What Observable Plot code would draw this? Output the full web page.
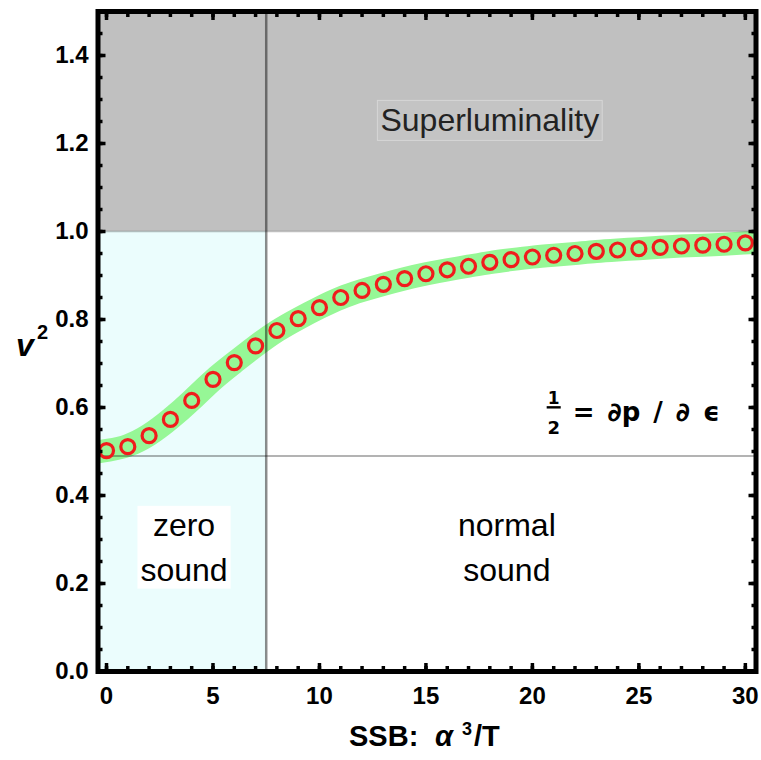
<!DOCTYPE html>
<html><head><meta charset="utf-8">
<script src="https://cdn.jsdelivr.net/npm/d3@7"></script>
<script src="https://cdn.jsdelivr.net/npm/@observablehq/plot@0.6"></script>
<style>body{margin:0;background:#fff;} svg{display:block;}</style>
</head><body><div id="chart"></div>
<script>
// ---- data ----
const ssb = [0,1,2,3,4,5,6,7,8,9,10,11,12,13,14,15,16,17,18,19,20,21,22,23,24,25,26,27,28,29,30];
const v2  = [0.502,0.511,0.536,0.573,0.616,0.664,0.702,0.740,0.775,0.802,0.827,0.850,0.866,0.880,0.893,0.904,0.913,0.921,0.930,0.936,0.942,0.946,0.950,0.955,0.958,0.961,0.964,0.967,0.969,0.971,0.974];
const bandEdgeX = [-0.4, 30.5];
const bandEdgeV = [0.499, 0.976];
const xDomain = [-0.4, 30.5];
const yDomain = [0, 1.5];
const xTicks = [0,5,10,15,20,25,30];
const xMinor = [0,1,2,3,4,5,6,7,8,9,10,11,12,13,14,15,16,17,18,19,20,21,22,23,24,25,26,27,28,29,30];
const yTicks = [0,0.2,0.4,0.6,0.8,1.0,1.2,1.4];
const yMinor = [0,0.05,0.1,0.15,0.2,0.25,0.3,0.35,0.4,0.45,0.5,0.55,0.6,0.65,0.7,0.75,0.8,0.85,0.9,0.95,1.0,1.05,1.1,1.15,1.2,1.25,1.3,1.35,1.4,1.45,1.5];
const zeroSoundLimit = 7.5;
const lightLimit = 1.0;
const halfLine = 0.49;
const regionLabels = ["Superluminality", "zero\nsound", "normal\nsound"];
const regionLabelX = [18.0, 3.64, 18.8];
const regionLabelY = [1.26, 0.29, 0.29];
const formulaX = 21.0, formulaY = 0.589;
const xLabelParts = ["SSB:", "α", "3", "/T"];
const yLabelParts = ["v", "2"];

// ---- tables ----
const points = ssb.map((x, i) => ({x, v: v2[i]}));
const band = [{x: bandEdgeX[0], v: bandEdgeV[0]}, ...points, {x: bandEdgeX[1], v: bandEdgeV[1]}];
const labels = regionLabels.map((t, i) => ({t, x: regionLabelX[i], y: regionLabelY[i]}));
const fracBar = [{x1: formulaX - 0.33, x2: formulaX + 0.33, y: formulaY}];

const F = "Liberation Sans, Arial, sans-serif";
const noText = () => "";

const plot = Plot.plot({
  width: 761, height: 760,
  marginLeft: 97.5, marginRight: 5.5, marginTop: 11, marginBottom: 89,
  x: {domain: xDomain},
  y: {domain: yDomain},
  style: {fontFamily: F, background: "white", color: "black", overflow: "visible"},
  marks: [
    // regions
    Plot.rect([0], {x1: xDomain[0], x2: xDomain[1], y1: lightLimit, y2: yDomain[1], fill: "#c0c0c0"}),
    Plot.rect([0], {x1: xDomain[0], x2: zeroSoundLimit, y1: yDomain[0], y2: lightLimit, fill: "#ebfdfd"}),
    // band
    Plot.line(band, {x: "x", y: "v", stroke: "#96f796", strokeWidth: 23, curve: "basis", strokeLinecap: "butt", clip: true}),
    // reference lines
    Plot.ruleY([lightLimit], {stroke: "black", strokeOpacity: 0.25, strokeWidth: 1.5}),
    Plot.ruleY([halfLine], {stroke: "black", strokeOpacity: 0.4, strokeWidth: 1.5}),
    Plot.ruleX([zeroSoundLimit], {stroke: "black", strokeOpacity: 0.45, strokeWidth: 2.5}),
    // points
    Plot.dot(points, {x: "x", y: "v", r: 7, stroke: "#f01c1c", strokeWidth: 3.2, fill: "none"}),
    // labels
    Plot.text(labels, {x: "x", y: "y", text: "t", fontSize: 32, lineHeight: 1.4, fill: (d, i) => i === 0 ? "#222" : "black"}),
    // formula 1/2 = dp/de
    Plot.text(["1"], {x: () => formulaX, y: () => formulaY, dy: -14, fontSize: 17, fontWeight: "bold", fontFamily: "DejaVu Sans"}),
    Plot.text(["2"], {x: () => formulaX, y: () => formulaY, dy: 16, fontSize: 18, fontWeight: "bold", fontFamily: "DejaVu Sans"}),
    Plot.link(fracBar, {x1: "x1", x2: "x2", y1: "y", y2: "y", dy: -5, stroke: "black", strokeWidth: 2.4}),
    Plot.text(["=\u2002∂p\u2002/\u2002∂\u2002ϵ"], {x: () => formulaX, y: () => formulaY, dx: 19, textAnchor: "start", fontSize: 26, fontWeight: "bold", fontFamily: "DejaVu Sans"}),
    // axes
    Plot.axisX({anchor: "bottom", ticks: xTicks, tickSize: -8, tickPadding: 23, tickFormat: d3.format("d"), fontSize: 24, fontWeight: "bold", strokeWidth: 3.5, label: null}),
    Plot.axisX({anchor: "bottom", ticks: xMinor, tickSize: -5, tickFormat: noText, strokeWidth: 3.5, label: null}),
    Plot.axisX({anchor: "top", ticks: xTicks, tickSize: -8, tickFormat: noText, strokeWidth: 3.5, label: null}),
    Plot.axisX({anchor: "top", ticks: xMinor, tickSize: -5, tickFormat: noText, strokeWidth: 3.5, label: null}),
    Plot.axisY({anchor: "left", ticks: yTicks, tickSize: -8, tickPadding: 17.5, tickFormat: d3.format(".1f"), fontSize: 24, fontWeight: "bold", strokeWidth: 3.5, label: null}),
    Plot.axisY({anchor: "left", ticks: yMinor, tickSize: -5, tickFormat: noText, strokeWidth: 3.5, label: null}),
    Plot.axisY({anchor: "right", ticks: yTicks, tickSize: -8, tickFormat: noText, strokeWidth: 3.5, label: null}),
    Plot.axisY({anchor: "right", ticks: yMinor, tickSize: -5, tickFormat: noText, strokeWidth: 3.5, label: null}),
    // axis titles
    Plot.text([xLabelParts[0]], {frameAnchor: "bottom", dx: -78, dy: 74, textAnchor: "start", fontSize: 29, fontWeight: "bold"}),
    Plot.text([xLabelParts[1]], {frameAnchor: "bottom", dx: 8, dy: 74, textAnchor: "start", fontSize: 29, fontWeight: "bold", fontStyle: "italic"}),
    Plot.text([xLabelParts[2]], {frameAnchor: "bottom", dx: 35, dy: 63, textAnchor: "start", fontSize: 18, fontWeight: "bold"}),
    Plot.text([xLabelParts[3]], {frameAnchor: "bottom", dx: 47, dy: 74, textAnchor: "start", fontSize: 29, fontWeight: "bold"}),
    Plot.text([yLabelParts[0]], {frameAnchor: "left", dx: -82, dy: 4, fontSize: 32, fontWeight: "bold", fontStyle: "italic"}),
    Plot.text([yLabelParts[1]], {frameAnchor: "left", dx: -61, dy: -9, fontSize: 20, fontWeight: "bold"}),
    // frame
    Plot.frame({stroke: "black", strokeWidth: 5})
  ]
});

document.getElementById("chart").append(plot);

// background boxes behind region labels
const boxes = [
  {match: "Superluminality", fill: "#c4c4c4", stroke: "#d6d6d6", px: 3, py: 2},
  {match: "zerosound", fill: "white", stroke: "none", px: 3, py: 1}
];
d3.select(plot).selectAll("text").each(function() {
  const b = boxes.find(b => b.match === this.textContent);
  if (!b) return;
  const bb = this.getBBox();
  const r = document.createElementNS("http://www.w3.org/2000/svg", "rect");
  r.setAttribute("x", bb.x - b.px);
  r.setAttribute("y", bb.y - b.py);
  r.setAttribute("width", bb.width + 2 * b.px);
  r.setAttribute("height", bb.height + 2 * b.py);
  r.setAttribute("fill", b.fill);
  r.setAttribute("stroke", b.stroke);
  const t = this.getAttribute("transform");
  if (t) r.setAttribute("transform", t);
  this.parentNode.insertBefore(r, this);
});
</script>
</body></html>
